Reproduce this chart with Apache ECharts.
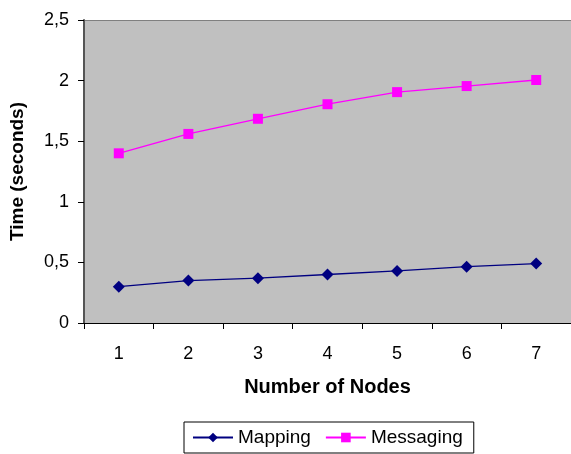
<!DOCTYPE html>
<html><head><meta charset="utf-8">
<script src="https://cdn.jsdelivr.net/npm/echarts@6/dist/echarts.min.js"></script>
<style>html,body{margin:0;padding:0;background:#fff}#c{width:571px;height:454px}</style>
</head><body><div id="c"></div>
<script>
const categories = ['1','2','3','4','5','6','7'];
const mapping = [0.30, 0.35, 0.37, 0.40, 0.43, 0.465, 0.49];
const messaging = [1.40, 1.56, 1.685, 1.805, 1.905, 1.955, 2.005];
const yTicks = [0, 0.5, 1, 1.5, 2, 2.5];

const chart = echarts.init(document.getElementById('c'), null, {renderer:'canvas'});
const font = 'Liberation Sans, Arial, sans-serif';
chart.setOption({
  animation:false,
  grid:{left:84, right:0, top:20, bottom:131, show:true, backgroundColor:'#C0C0C0', borderWidth:0,
        containLabel:false, outerBoundsMode:'none'},
  xAxis:{
    type:'category', data:categories, boundaryGap:true,
    name:'Number of Nodes', nameLocation:'middle', nameGap:54,
    nameTextStyle:{fontFamily:font, fontSize:20, fontWeight:'bold', color:'#000'},
    axisLine:{lineStyle:{color:'#000', width:1}},
    axisTick:{show:true, length:6, lineStyle:{color:'#000'}},
    axisLabel:{fontFamily:font, fontSize:18, color:'#000', margin:22}
  },
  yAxis:{
    type:'value', min:0, max:2.5, interval:0.5,
    name:'Time (seconds)', nameLocation:'middle', nameGap:57, nameRotate:90,
    nameTextStyle:{fontFamily:font, fontSize:19, fontWeight:'bold', color:'#000'},
    axisLine:{show:true, lineStyle:{color:'#555', width:2}},
    axisTick:{show:true, length:6, lineStyle:{color:'#000'}},
    splitLine:{show:false},
    axisLabel:{fontFamily:font, fontSize:18, color:'#000', margin:15,
      formatter:v=>String(yTicks.find(t=>Math.abs(t-v)<1e-9) ?? v).replace('.',',')}
  },
  legend:{
    left:184, top:422, itemGap:14, padding:[6,11,6,8],
    borderColor:'#000', borderWidth:1, itemWidth:40, itemHeight:12,
    textStyle:{fontFamily:font, fontSize:19, color:'#000'},
    data:['Mapping','Messaging']
  },
  series:[
    {name:'Mapping', type:'line', data:mapping, symbol:'diamond', symbolSize:12,
     lineStyle:{color:'#000080', width:1.3}, itemStyle:{color:'#000080'}},
    {name:'Messaging', type:'line', data:messaging, symbol:'rect', symbolSize:10,
     lineStyle:{color:'#FF00FF', width:1.3}, itemStyle:{color:'#FF00FF'}}
  ],
  graphic:[{type:'line', shape:{x1:84,y1:20.5,x2:571,y2:20.5}, style:{stroke:'#808080', lineWidth:1}}]
});
</script></body></html>
